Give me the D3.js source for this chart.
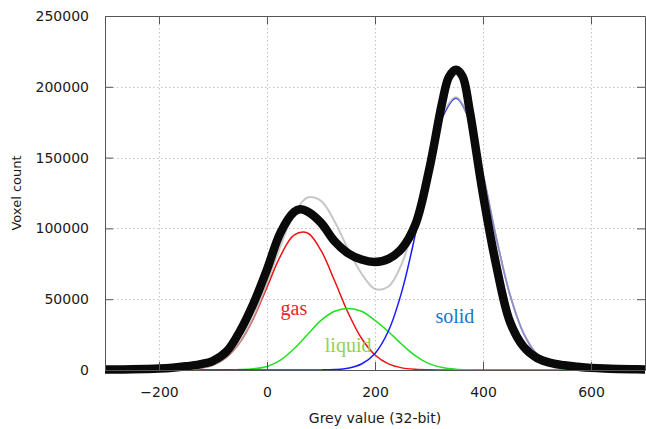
<!DOCTYPE html>
<html>
<head>
<meta charset="utf-8">
<script src="https://cdn.jsdelivr.net/npm/d3@7"></script>
<style>
  html, body { margin: 0; padding: 0; background: #fff; }
  svg { display: block; }
</style>
</head>
<body>
<svg id="chart" width="646" height="429"></svg>
<script>
// ---- data ----
const xTicks = [-200, 0, 200, 400, 600];
const yTicks = [0, 50000, 100000, 150000, 200000, 250000];

// component fit curves, sampled every 25 grey-value units
const compX = [-150,-125,-100,-75,-50,-25,0,25,50,75,100,125,150,175,200,225,250,275,300,325,350,375,400,425,450,475,500,525,550,575,600];
const gas    = [350,1190,3540,8960,19500,36500,58500,80600,95300,96800,84400,63200,40600,22400,10600,4300,1500,450,115,25,0,0,0,0,0,0,0,0,0,0,0];
const liquid = [0,0,0,100,300,900,2500,7000,15000,25000,35000,41500,43500,41500,35000,27000,18000,10000,4500,1800,600,200,60,0,0,0,0,0,0,0,0];
const solid  = [0,0,0,0,0,0,0,0,0,0,80,350,1300,4250,11700,27700,55900,96300,141900,178600,192000,176300,138300,92700,53100,26000,10900,3900,1180,310,70];
const fitSum = [350,1190,3540,9060,19800,37400,61000,87600,110300,121800,119480,105050,85400,68150,57300,59000,75400,106750,146515,180425,192600,176500,138360,92700,53100,26000,10900,3900,1180,310,70];

// measured histogram
const histX = [-300,-275,-250,-225,-200,-175,-150,-125,-100,-75,-50,-25,0,25,50,62,75,100,125,150,175,200,225,250,275,300,325,337,350,362,375,400,425,450,475,500,525,550,575,600,625,650,675,700];
const histY = [300,400,500,700,1000,1600,2600,4000,6500,13000,27500,47000,71000,97000,111500,113500,112000,104000,91000,82500,78000,76300,78500,86000,103000,141000,190000,207000,212000,207500,184000,124000,73000,34000,16500,8500,5000,3300,2300,1500,1000,700,500,400];

// phase labels: [text, x value, y value]
const labelNames = ["gas", "liquid", "solid"];
const labelX = [25, 107, 312];
const labelY = [38800, 12700, 33200];
const labelColors = ["#e8262a", "#92d050", "#1a74c8"];

// ---- drawing ----
const svg = d3.select("#chart");
const L = 105, R = 645, T = 16, B = 370;
const x = d3.scaleLinear().domain([-300, 700]).range([L, R]);
const y = d3.scaleLinear().domain([0, 250000]).range([B, T]);

// grid
const grid = svg.append("g").attr("stroke", "#c4c4c4").attr("stroke-width", 1).attr("stroke-dasharray", "1.5,2.5");
grid.selectAll("line.v").data(xTicks).join("line")
  .attr("x1", d => Math.round(x(d)) + 0.5).attr("x2", d => Math.round(x(d)) + 0.5)
  .attr("y1", T).attr("y2", B);
grid.selectAll("line.h").data(yTicks.filter(d => d > 0 && d < 250000)).join("line")
  .attr("x1", L).attr("x2", R)
  .attr("y1", d => Math.round(y(d)) + 0.5).attr("y2", d => Math.round(y(d)) + 0.5);

// clip
svg.append("clipPath").attr("id", "clip").append("rect")
  .attr("x", L).attr("y", T - 10).attr("width", R - L).attr("height", B - T + 20);

const plot = svg.append("g").attr("clip-path", "url(#clip)");
const mkLine = (xs) => d3.line()
  .x((d, i) => x(xs[i]))
  .y(d => y(d))
  .curve(d3.curveCatmullRom.alpha(0.5));

const compLine = mkLine(compX);
plot.append("path").datum(gas).attr("d", compLine)
  .attr("fill", "none").attr("stroke", "#f01010").attr("stroke-width", 1.5);
plot.append("path").datum(liquid).attr("d", compLine)
  .attr("fill", "none").attr("stroke", "#20e020").attr("stroke-width", 1.5);
plot.append("path").datum(solid).attr("d", compLine)
  .attr("fill", "none").attr("stroke", "#1a1aff").attr("stroke-width", 1.5);
plot.append("path").datum(fitSum).attr("d", compLine)
  .attr("fill", "none").attr("stroke", "#b4b4b4").attr("stroke-opacity", 0.75).attr("stroke-width", 2);

// phase labels
svg.selectAll("text.phase").data(labelNames).join("text")
  .attr("class", "phase")
  .attr("x", (d, i) => x(labelX[i]))
  .attr("y", (d, i) => y(labelY[i]))
  .attr("fill", (d, i) => labelColors[i])
  .attr("font-family", "'Liberation Serif', 'Times New Roman', serif")
  .attr("font-size", 20)
  .text(d => d);

// histogram (thick black)
plot.append("path").datum(histY).attr("d", mkLine(histX))
  .attr("fill", "none").attr("stroke", "#0a0a0a").attr("stroke-width", 8.5)
  .attr("stroke-linejoin", "round").attr("stroke-linecap", "round");

// axes
const font = "'DejaVu Sans', Verdana, sans-serif";
function styleAxis(g) {
  g.selectAll(".domain").attr("stroke", "#555");
  g.selectAll(".tick line").attr("stroke", "#555");
  g.selectAll("text").attr("fill", "#1a1a1a").attr("font-family", font).attr("font-size", 14);
}
svg.append("g").attr("transform", `translate(0,${B})`)
  .call(d3.axisBottom(x).tickValues(xTicks).tickSizeInner(-8).tickSizeOuter(0).tickPadding(17))
  .call(styleAxis);
svg.append("g").attr("transform", `translate(0,${T})`)
  .call(d3.axisTop(x).tickValues(xTicks).tickSizeInner(-8).tickSizeOuter(0).tickFormat(""))
  .call(styleAxis);
svg.append("g").attr("transform", `translate(${L},0)`)
  .call(d3.axisLeft(y).tickValues(yTicks).tickSizeInner(-8).tickSizeOuter(0).tickPadding(16).tickFormat(d3.format("d")))
  .call(styleAxis);
svg.append("g").attr("transform", `translate(${R},0)`)
  .call(d3.axisRight(y).tickValues(yTicks).tickSizeInner(-8).tickSizeOuter(0).tickFormat(""))
  .call(styleAxis);

// axis titles
svg.append("text")
  .attr("x", (L + R) / 2).attr("y", 423)
  .attr("text-anchor", "middle")
  .attr("font-family", font).attr("font-size", 14).attr("fill", "#1a1a1a")
  .text("Grey value (32-bit)");
svg.append("text")
  .attr("transform", `translate(21,${(T + B) / 2}) rotate(-90)`)
  .attr("text-anchor", "middle")
  .attr("font-family", font).attr("font-size", 13).attr("fill", "#1a1a1a")
  .text("Voxel count");
</script>
</body>
</html>
